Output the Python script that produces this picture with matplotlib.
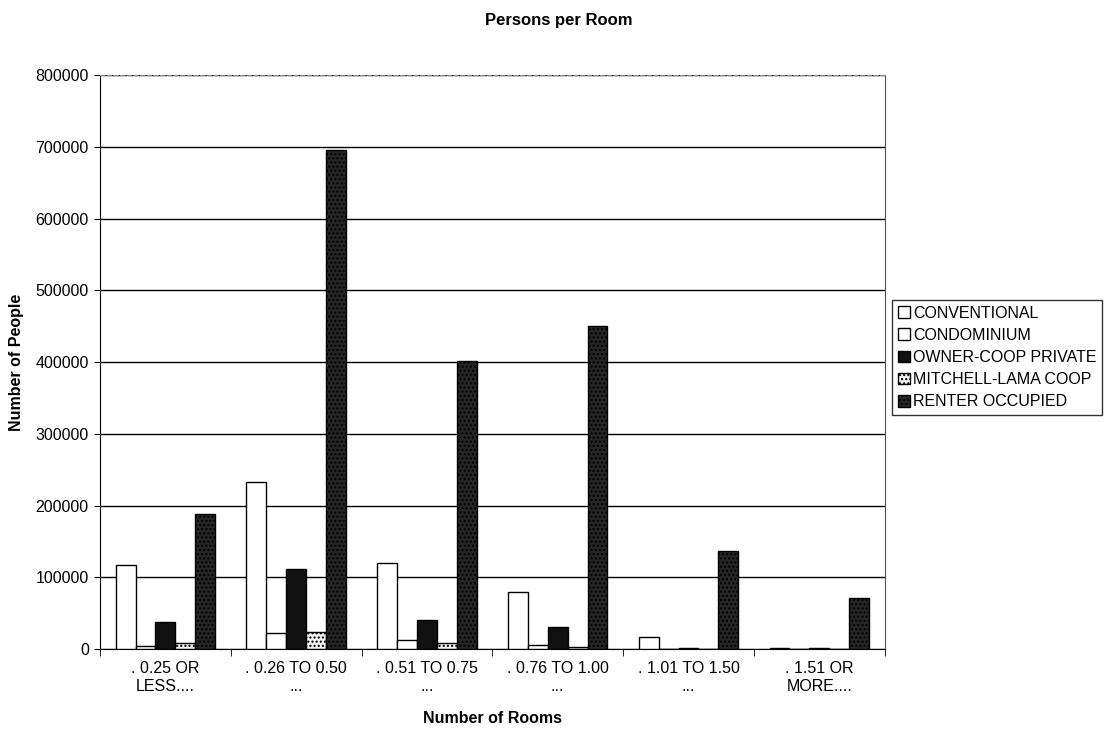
import numpy as np
import matplotlib.pyplot as plt

plt.rcParams['font.family'] = ['Liberation Sans', 'DejaVu Sans']
plt.rcParams['hatch.color'] = '#999999'

# Категории и значения
categories = [". 0.25 OR\nLESS....", ". 0.26 TO 0.50\n...", ". 0.51 TO 0.75\n...",
              ". 0.76 TO 1.00\n...", ". 1.01 TO 1.50\n...", ". 1.51 OR\nMORE...."]
series_names = ["CONVENTIONAL", "CONDOMINIUM", "OWNER-COOP PRIVATE",
                "MITCHELL-LAMA COOP", "RENTER OCCUPIED"]
conventional = [117000, 233000, 120000, 80000, 17000, 2000]
condominium = [4000, 22000, 12000, 5000, 500, 0]
owner_coop = [38000, 112000, 40000, 30000, 2000, 2000]
mitchell = [8000, 24000, 8000, 3000, 0, 500]
renter = [188000, 695000, 402000, 450000, 136000, 71000]

values = [conventional, condominium, owner_coop, mitchell, renter]
faces = ["white", "white", "#111111", "#f2f2f2", "#262626"]
hatches = [None, None, None, "....", "...."]

fig = plt.figure(figsize=(11.17, 7.3), dpi=100)
ax = fig.add_axes([0.0895, 0.111, 0.7025, 0.786])

x = np.arange(len(categories))
w = 0.152
for i, (vals, fc, h) in enumerate(zip(values, faces, hatches)):
    pos = x - 2 * w + i * w
    b = ax.bar(pos, vals, w, color=fc, edgecolor="black", linewidth=1.0,
               label=series_names[i], zorder=3)
    if h:
        for r in b:
            r.set_hatch(h)

fs = 11.5
ax.set_xlim(-0.5, len(categories) - 0.5)
ax.set_ylim(0, 800000)
ax.set_yticks(np.arange(0, 800001, 100000))
ax.set_yticklabels([str(v) for v in range(0, 800001, 100000)], fontsize=fs)
ax.yaxis.grid(True, color="black", linewidth=1.0, zorder=0)
ax.set_axisbelow(True)

ax.set_xticks(x)
ax.set_xticklabels(categories, fontsize=fs)
ax.tick_params(axis="x", length=0, pad=9)
ax.set_xticks(np.arange(-0.5, len(categories), 1), minor=True)
ax.tick_params(axis="x", which="minor", length=5, direction="out")
ax.tick_params(axis="y", length=4, direction="out", pad=4)

ax.spines["top"].set_color("#888888")
ax.spines["top"].set_linestyle((0, (4, 2)))
ax.spines["right"].set_color("#555555")

ax.set_xlabel("Number of Rooms", fontsize=fs, fontweight="bold", labelpad=12)
ax.set_ylabel("Number of People", fontsize=fs, fontweight="bold", labelpad=8)
fig.text(0.5, 1 - 20 / 730, "Persons per Room", fontsize=12, fontweight="bold",
         ha="center", va="center")

leg = ax.legend(loc="upper left", bbox_to_anchor=(892 / 1117, 1 - 300 / 730),
                bbox_transform=fig.transFigure, fontsize=fs, frameon=True,
                fancybox=False, edgecolor="black", handlelength=0.75,
                handleheight=0.75, handletextpad=0.2, labelspacing=0.45,
                borderpad=0.35, borderaxespad=0)
leg.get_frame().set_linewidth(1.0)

fig.savefig("out.png", dpi=100)
